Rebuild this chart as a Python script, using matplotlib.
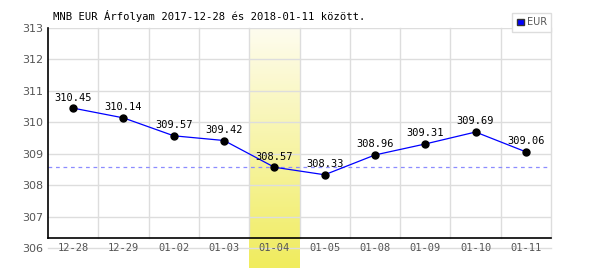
import numpy as np
import matplotlib
matplotlib.use("Agg")
import matplotlib.pyplot as plt
from matplotlib.patches import Patch
from matplotlib.colors import LinearSegmentedColormap

# Adatok (MNB EUR árfolyam)
napok = ["12-28", "12-29", "01-02", "01-03", "01-04", "01-05", "01-08", "01-09", "01-10", "01-11"]
arfolyam = [310.45, 310.14, 309.57, 309.42, 308.57, 308.33, 308.96, 309.31, 309.69, 309.06]
kiemelt_nap = "01-04"
cim = "MNB EUR Árfolyam 2017-12-28 és 2018-01-11 között."
y_min, y_max = 306, 313

mono = "DejaVu Sans Mono"
szurke = "#555555"

fig = plt.figure(figsize=(6, 2.7), dpi=100)
ax = fig.add_axes([48 / 600, 1 - 248 / 270, 503 / 600, 220 / 270])

x = np.arange(len(napok))
ax.set_xlim(-0.5, len(napok) - 0.5)
ax.set_ylim(y_min, y_max)

# also fekete tengelyvonal kicsit a 306 felett
also = 10 / 220
ax_y = y_min + also * (y_max - y_min)

# kiemelt nap sárga sávja (színátmenettel)
k = napok.index(kiemelt_nap)
cmap = LinearSegmentedColormap.from_list("sarga", ["#fefcee", "#f0ec5e"])
grad = np.linspace(0, 1, 100).reshape(-1, 1)
trans = ax.get_xaxis_transform()
im = ax.imshow(grad, cmap=cmap, aspect="auto", origin="upper",
               extent=(k - 0.5, k + 0.5, -20 / 220, 1.0), transform=trans,
               zorder=0, clip_on=False)

# rácsvonalak
for yy in range(y_min + 1, y_max + 1):
    ax.axhline(yy, color="#dddddd", lw=1, zorder=1)
ax.axhline(y_min, color="#dddddd", lw=1, zorder=1, clip_on=False)
for i in range(len(napok)):
    ax.plot([i + 0.5, i + 0.5], [ax_y, y_max], color="#dddddd", lw=1, zorder=1, clip_on=False)

# kiemelt érték szaggatott vonala
ax.axhline(arfolyam[k], color="#8c8cff", lw=0.9, ls=(0, (3, 3)), zorder=2)

# fekete tengelyek
ax.plot([-0.5, -0.5], [ax_y, y_max], color="black", lw=1.2, zorder=3, clip_on=False)
ax.plot([-0.5, len(napok) - 0.5], [ax_y, ax_y], color="black", lw=1.2, zorder=3, clip_on=False)

# adatsor
ax.plot(x, arfolyam, color="#0000ff", lw=0.9, zorder=4)
ax.plot(x, arfolyam, "o", color="black", ms=5, zorder=5)
for xi, v in zip(x, arfolyam):
    ax.annotate(f"{v:.2f}", (xi, v), xytext=(0, 4), textcoords="offset points",
                ha="center", va="bottom", fontsize=7.5, family=mono, color="black", zorder=6)

# tengelyfeliratok
for s in ax.spines.values():
    s.set_visible(False)
ax.set_xticks([])
ax.set_yticks(range(y_min, y_max + 1))
ax.tick_params(axis="y", length=0, pad=3.5, labelsize=8, labelcolor=szurke)
for xi, n in zip(x, napok):
    ax.text(xi, y_min, n, ha="center", va="center", fontsize=7.5, family=mono, color=szurke,
            zorder=6, clip_on=False)

fig.text(53 / 600, 1 - 16 / 270, cim, ha="left", va="center", fontsize=7.6, family=mono, color="black")

leg = ax.legend(handles=[Patch(facecolor="#0000ff", edgecolor="#333333", label="EUR")],
                loc="upper right", bbox_to_anchor=(1.0, 1 + 15 / 220), fontsize=7,
                frameon=True, fancybox=False, edgecolor="#dddddd", framealpha=1,
                handlelength=0.7, handleheight=0.7, handletextpad=0.3, borderpad=0.45,
                borderaxespad=0)
leg.get_frame().set_linewidth(1)
for t in leg.get_texts():
    t.set_color(szurke)

fig.savefig("out.png", dpi=100)
